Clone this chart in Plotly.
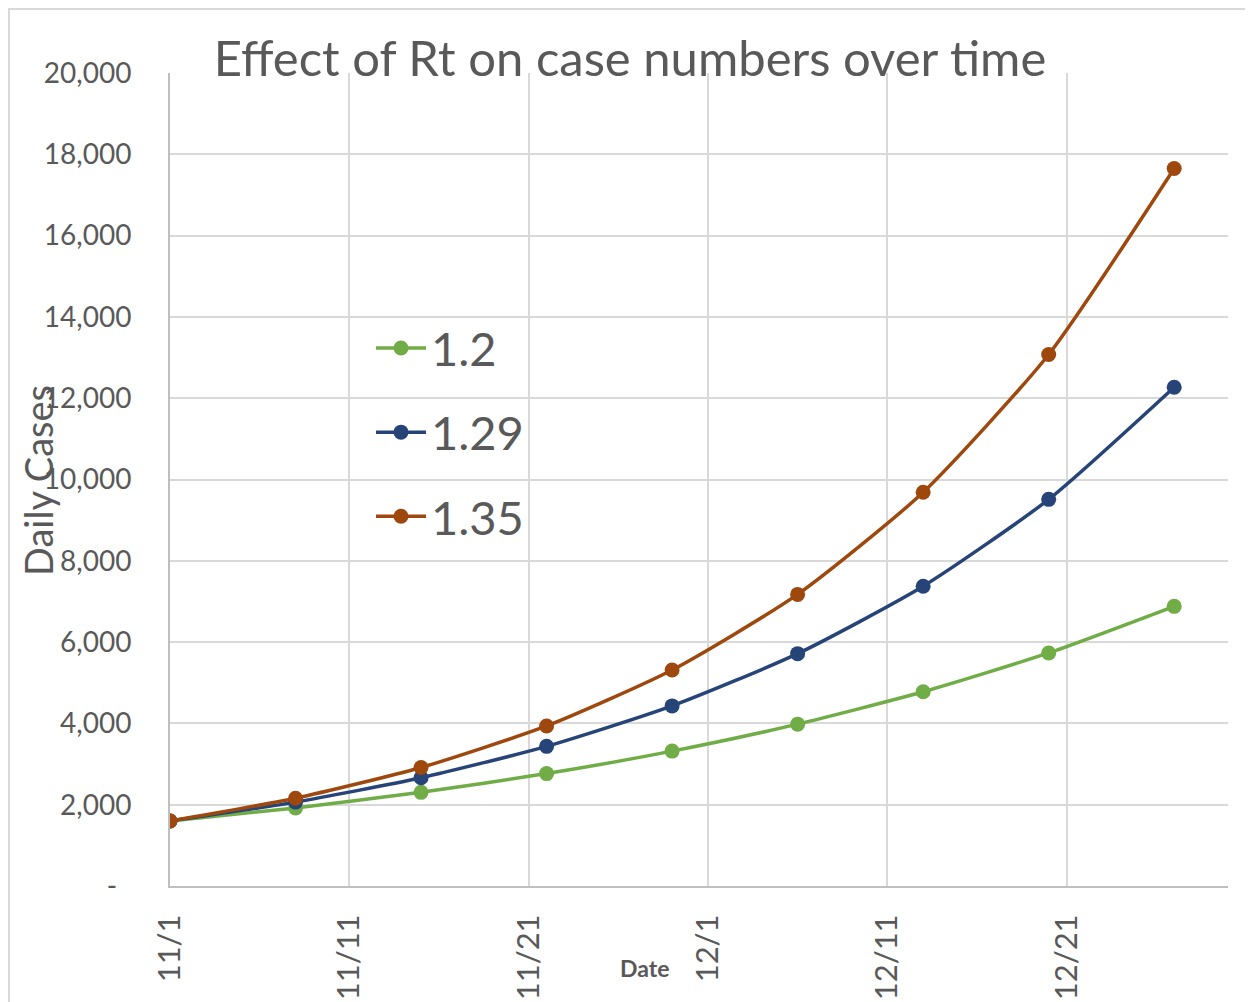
import plotly.graph_objects as go

dates = ["2020-11-01", "2020-11-08", "2020-11-15", "2020-11-22", "2020-11-29",
         "2020-12-06", "2020-12-13", "2020-12-20", "2020-12-27"]
series_names = ["1.2", "1.29", "1.35"]
cases_12 = [1600, 1920, 2304, 2765, 3318, 3981, 4778, 5733, 6880]
cases_129 = [1600, 2064, 2663, 3435, 4431, 5716, 7374, 9512, 12271]
cases_135 = [1600, 2160, 2916, 3937, 5314, 7174, 9686, 13076, 17652]
colors = ["#70ad47", "#264478", "#9e480e"]

xtick_vals = ["2020-11-01", "2020-11-11", "2020-11-21", "2020-12-01", "2020-12-11", "2020-12-21"]
xtick_text = ["11/1", "11/11", "11/21", "12/1", "12/11", "12/21"]
ytick_vals = [0, 2000, 4000, 6000, 8000, 10000, 12000, 14000, 16000, 18000, 20000]
ytick_text = ["-\u00a0\u00a0", "2,000", "4,000", "6,000", "8,000", "10,000",
              "12,000", "14,000", "16,000", "18,000", "20,000"]

FONT = "Lato"
GREY = "#595959"

fig = go.Figure()
for name, ys, c in zip(series_names, [cases_12, cases_129, cases_135], colors):
    fig.add_trace(go.Scatter(
        x=dates, y=ys, name=name, legendgroup=name,
        mode="lines+markers",
        line=dict(color=c, width=3.5, shape="spline", smoothing=0.6),
        marker=dict(color=c, size=15),
    ))

OFF = 8  # page body margin
W, H = 1253, 1002
L, T = 170 - OFF, 73 - OFF
pw, ph = 1058, 813
R = W - L - pw
B = H - T - ph


def sx(x):
    return (x - OFF - L) / pw


def sy(y):
    return (H - B - (y - OFF)) / ph


fig.update_layout(
    width=W, height=H,
    margin=dict(l=L, r=R, t=T, b=B, autoexpand=False),
    paper_bgcolor="white", plot_bgcolor="white",
    font=dict(family=FONT, color=GREY),
    title=dict(text="Effect of Rt on case numbers over time",
               font=dict(size=49, color=GREY, family=FONT),
               x=(630 - OFF) / W, xanchor="center", y=1 - (59 - OFF) / H, yanchor="middle"),
    showlegend=True,
    legend=dict(x=sx(371), y=sy(311), xanchor="left", yanchor="top",
                font=dict(size=47, color=GREY, family=FONT),
                bgcolor="rgba(0,0,0,0)", tracegroupgap=20, itemwidth=50),
    xaxis=dict(
        type="date", range=["2020-11-01", "2020-12-30"], automargin=False,
        tickvals=xtick_vals, ticktext=xtick_text, tickangle=-90,
        tickfont=dict(size=31, color=GREY, family=FONT),
        showgrid=True, gridcolor="#d9d9d9", gridwidth=1.5,
        showline=True, linecolor="#bfbfbf", linewidth=2,
        ticks="outside", ticklen=14, tickcolor="rgba(0,0,0,0)",
        zeroline=False,
    ),
    yaxis=dict(
        range=[0, 20000], tickvals=ytick_vals, ticktext=ytick_text, automargin=False,
        tickfont=dict(size=28, color=GREY, family=FONT),
        showgrid=True, gridcolor="#d9d9d9", gridwidth=1.5,
        showline=True, linecolor="#bfbfbf", linewidth=2,
        ticks="outside", ticklen=31, tickcolor="rgba(0,0,0,0)",
        zeroline=False,
    ),
    annotations=[
        dict(text="Daily Cases", xref="paper", yref="paper", x=sx(38), y=sy(481),
             xanchor="center", yanchor="middle", textangle=-90, showarrow=False,
             font=dict(size=38, color=GREY, family=FONT)),
        dict(text="<b>Date</b>", xref="paper", yref="paper", x=sx(644), y=sy(968),
             xanchor="center", yanchor="middle", showarrow=False,
             font=dict(size=23, color=GREY, family=FONT)),
    ],
    shapes=[
        dict(type="rect", xref="paper", yref="paper",
             x0=(1 - L) / pw, y0=(H - B - (H + 20)) / ph,
             x1=(W + 20 - L) / pw, y1=(H - B - 1) / ph,
             line=dict(color="#d9d9d9", width=2), layer="below"),
    ],
)

fig.write_html("out.html")
